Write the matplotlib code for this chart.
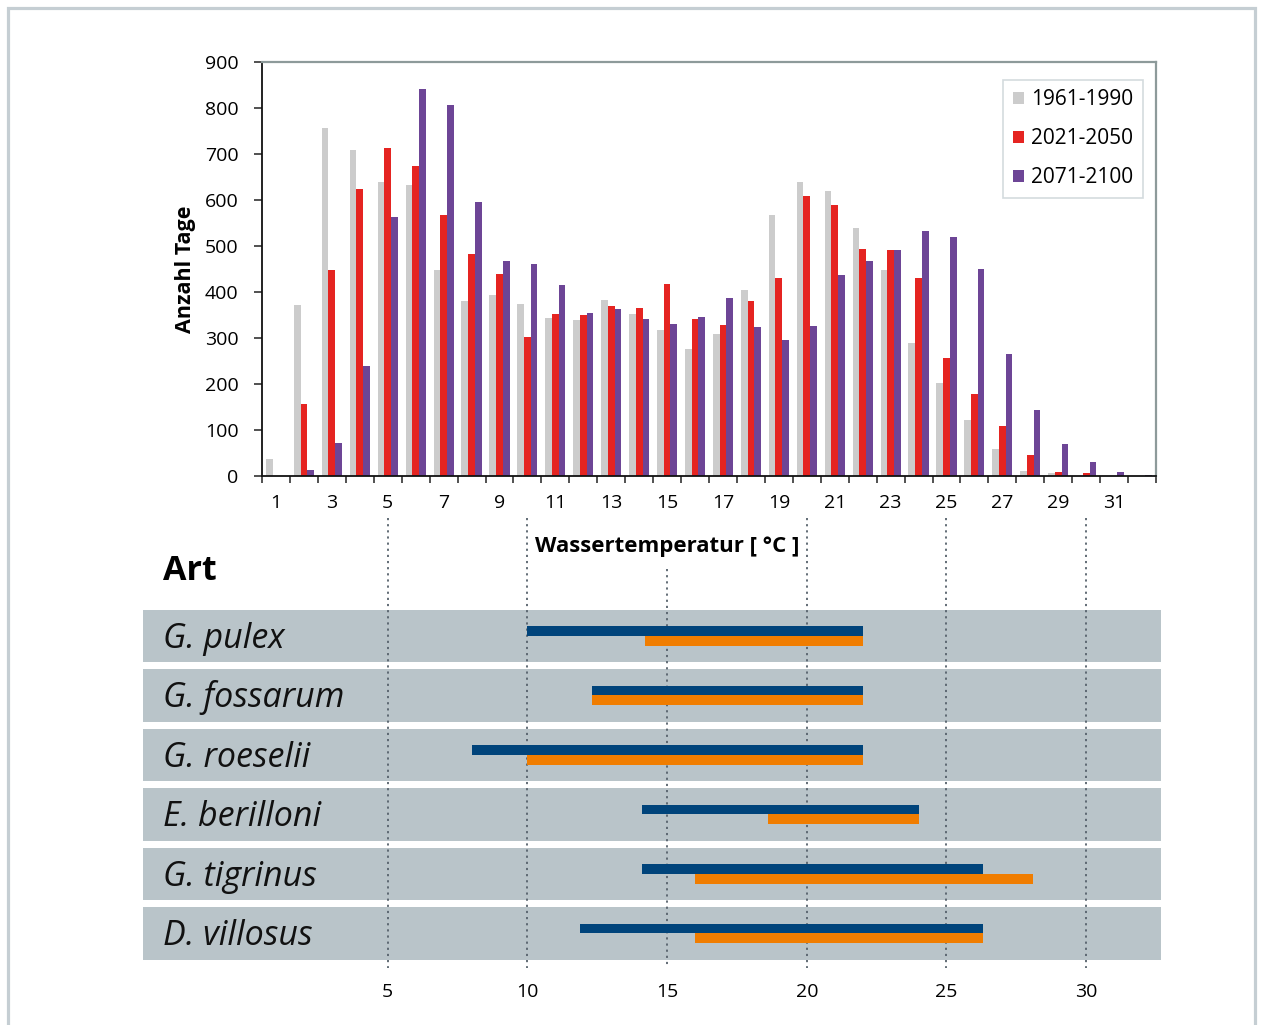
import matplotlib.pyplot as plt
import matplotlib.patches as patches
from matplotlib.transforms import blended_transform_factory
from matplotlib.ticker import FixedLocator, NullFormatter
import numpy as np

plt.rcParams['font.family'] = ['Open Sans', 'DejaVu Sans']

# Anzahl Tage je Wassertemperatur-Klasse (1..32 °C)
temp = np.arange(1, 33)
tage_1961_1990 = [36, 371, 756, 708, 639, 632, 447, 380, 393, 373, 343, 339, 382, 352, 317, 276,
                  308, 404, 567, 639, 619, 539, 447, 289, 202, 121, 58, 10, 6, 0, 0, 0]
tage_2021_2050 = [0, 156, 447, 624, 713, 674, 567, 482, 439, 302, 352, 350, 369, 365, 417, 341,
                  328, 380, 430, 608, 589, 493, 491, 430, 256, 178, 108, 45, 8, 6, 0, 0]
tage_2071_2100 = [0, 12, 71, 239, 563, 841, 806, 595, 467, 460, 415, 354, 363, 341, 330, 345,
                  387, 323, 295, 326, 437, 467, 491, 532, 519, 450, 265, 143, 69, 30, 8, 2]
zeitraeume = ['1961-1990', '2021-2050', '2071-2100']

# Temperaturbereiche der Arten
arten = ['G. pulex', 'G. fossarum', 'G. roeselii', 'E. berilloni', 'G. tigrinus', 'D. villosus']
blau_von = [10.0, 12.3, 8.0, 14.1, 14.1, 11.9]
blau_bis = [22.0, 22.0, 22.0, 24.0, 26.3, 26.3]
orange_von = [14.2, 12.3, 10.0, 18.6, 16.0, 16.0]
orange_bis = [22.0, 22.0, 22.0, 24.0, 28.1, 26.3]
raster = [5, 10, 15, 20, 25, 30]

W, H = 1261, 1025
fig = plt.figure(figsize=(W / 100, H / 100), dpi=100)

# grauer Rahmen um die Grafik
fig.patches.append(patches.Rectangle((8 / W, -0.05), 1247 / W, 1.05 - 8 / H, transform=fig.transFigure,
                                     fill=False, edgecolor='#c5ced3', linewidth=2.3))

# --- Histogramm ---
ax = fig.add_axes([262 / W, 1 - 476 / H, 894 / W, 414 / H])
bw = 0.24
farben = ['#cccccc', '#e52421', '#6d4596']
for k, (werte, farbe) in enumerate(zip([tage_1961_1990, tage_2021_2050, tage_2071_2100], farben)):
    ax.bar(temp + (k - 1) * bw, werte, width=bw, color=farbe, label=zeitraeume[k], zorder=2)

ax.set_xlim(0.5, 32.5)
ax.set_ylim(0, 900)
ax.set_yticks(range(0, 901, 100))
ax.set_xticks(temp[::2])
ax.xaxis.set_minor_locator(FixedLocator(np.arange(0.5, 33, 1)))
ax.xaxis.set_minor_formatter(NullFormatter())
ax.tick_params(axis='x', which='major', length=0, pad=13, labelsize=14)
ax.tick_params(axis='x', which='minor', length=5, width=1.1, color='#222222')
ax.tick_params(axis='y', length=6, width=1.1, pad=11, labelsize=14, color='#222222')
for s in ['left', 'bottom']:
    ax.spines[s].set_color('#111111')
    ax.spines[s].set_linewidth(1.3)
for s in ['top', 'right']:
    ax.spines[s].set_color('#8d9a9a')
    ax.spines[s].set_linewidth(1.6)
ax.set_ylabel('Anzahl Tage', fontsize=15.5, fontweight='bold', labelpad=6)

leg = ax.legend(loc='upper right', bbox_to_anchor=((1143 - 262) / 894, (476 - 80) / 414),
                fontsize=15, frameon=True, fancybox=False, handlelength=0.55, handleheight=0.55,
                handletextpad=0.35, labelspacing=0.86, borderpad=0.45, borderaxespad=0)
leg.get_frame().set_edgecolor('#c9d2d6')
leg.get_frame().set_linewidth(1.2)

# --- Temperaturbereiche der Arten ---
x0 = 0.5 + (143 - 262) / (894 / 32)
x1 = 0.5 + (1161 - 262) / (894 / 32)
ax2 = fig.add_axes([143 / W, 1 - 968 / H, 1018 / W, 450 / H])
ax2.set_xlim(x0, x1)
ax2.set_ylim(5.58, -1.983)
for s in ax2.spines.values():
    s.set_visible(False)
ax2.set_yticks([])
ax2.set_xticks(raster)
ax2.tick_params(axis='x', length=0, pad=11, labelsize=14)

for i in range(len(arten)):
    ax2.axhspan(i - 0.442, i + 0.442, color='#b9c4c9', zorder=0, lw=0)

oben = [-1.126 if t == 15 else -1.983 for t in raster]
ax2.vlines(raster, oben, 5.58, colors='#56616b', linewidth=1.3, linestyles=(0, (1.2, 2.2)), zorder=1)

y = np.arange(len(arten))
ax2.barh(y - 0.08, np.array(blau_bis) - np.array(blau_von), left=blau_von, height=0.16,
         color='#00447b', zorder=3)
ax2.barh(y + 0.08, np.array(orange_bis) - np.array(orange_von), left=orange_von, height=0.16,
         color='#f07d00', zorder=3)

tr = blended_transform_factory(ax2.transAxes, ax2.transData)
for i, name in enumerate(arten):
    ax2.text(20 / 1018, i + 0.2, name, transform=tr, fontsize=24.5, style='italic',
             va='baseline', ha='left', color='#111111')

ax2.text(15, (552 - 636) / 59.5, 'Wassertemperatur [ °C ]', ha='center', va='baseline',
         fontsize=16, fontweight='bold')
fig.text(163 / W, 1 - 580 / H, 'Art', fontsize=24.5, fontweight='bold', va='baseline', ha='left')

fig.savefig('out.png', dpi=100)
